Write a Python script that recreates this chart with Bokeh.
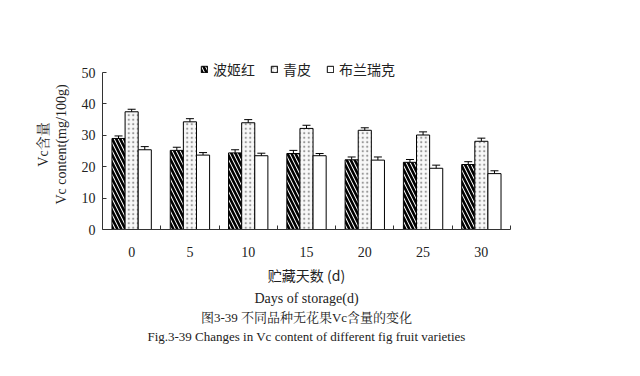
from bokeh.plotting import figure
from bokeh.models import (ColumnDataSource, FixedTicker, Whisker, TeeHead, Legend,
                          LegendItem, Title, Range1d)
from bokeh.embed import file_html
from bokeh.resources import INLINE

days = ["0", "5", "10", "15", "20", "25", "30"]
series_names = ["波姬红", "青皮", "布兰瑞克"]
bojihong = [29.0, 25.2, 24.4, 24.2, 22.2, 21.4, 20.7]
qingpi = [37.5, 34.3, 34.0, 32.2, 31.6, 30.1, 28.1]
bulanruike = [25.4, 23.7, 23.5, 23.5, 22.1, 19.5, 17.8]
err_bojihong = [0.8, 1.0, 1.0, 1.0, 0.9, 0.9, 0.9]
err_qingpi = [0.8, 1.0, 1.0, 1.0, 0.8, 1.0, 1.0]
err_bulanruike = [1.0, 0.8, 0.8, 0.7, 1.0, 1.0, 0.9]
y_ticks = [0, 10, 20, 30, 40, 50]

SERIF = "Liberation Serif, Noto Serif CJK SC, Noto Sans CJK SC"
SANS = "Noto Sans CJK SC"

n = len(days)
centers = [i + 0.5 for i in range(n)]
bw = 0.225
offsets = [-bw, 0.0, bw]

p = figure(width=640, height=376, output_backend="svg", toolbar_location=None,
           x_range=Range1d(0, n), y_range=Range1d(0, 54.15),
           min_border_left=102, min_border_right=130, min_border_top=59,
           min_border_bottom=147)
p.outline_line_color = None
p.grid.visible = False
p.background_fill_color = "white"
p.border_fill_color = "white"

styles = [
    dict(fill_color="white", hatch_pattern="left_diagonal_line", hatch_color="black",
         hatch_weight=2.6, hatch_scale=8),
    dict(fill_color="#f8f8f8", hatch_pattern="dot", hatch_color="#999999",
         hatch_weight=1, hatch_scale=4.5),
    dict(fill_color="white"),
]
values = [bojihong, qingpi, bulanruike]
errs = [err_bojihong, err_qingpi, err_bulanruike]

items = []
for k in range(3):
    xs = [c + offsets[k] for c in centers]
    src = ColumnDataSource(dict(x=xs, top=values[k],
                                upper=[v + e for v, e in zip(values[k], errs[k])],
                                lower=[v - e for v, e in zip(values[k], errs[k])]))
    r = p.vbar(x="x", top="top", width=bw, source=src, line_color="black",
               line_width=1, **styles[k])
    items.append(LegendItem(label=series_names[k], renderers=[r]))
    w = Whisker(base="x", upper="upper", lower="lower", source=src,
                line_color="black", line_width=1,
                upper_head=TeeHead(size=8, line_color="black", line_width=1),
                lower_head=TeeHead(size=8, line_color="black", line_width=1))
    p.add_layout(w)

legend = Legend(items=items, orientation="horizontal", location=(98, 150),
                padding=0, margin=0, spacing=15, glyph_width=8, glyph_height=8,
                label_standoff=5, border_line_color=None, background_fill_alpha=0,
                label_text_font=SANS, label_text_font_size="14px",
                label_text_color="#222222")
p.add_layout(legend)

# axes
xa = p.xaxis[0]
xa.ticker = FixedTicker(ticks=centers, minor_ticks=list(range(1, n + 1)))
xa.major_label_overrides = {c: d for c, d in zip(centers, days)}
xa.major_tick_in = 0
xa.major_tick_out = 0
xa.minor_tick_in = 4
xa.minor_tick_out = 0
xa.minor_tick_line_color = "#333333"
xa.axis_line_color = "#333333"
xa.major_label_standoff = 17
xa.major_label_text_font = SERIF
xa.major_label_text_font_size = "14px"
xa.major_label_text_color = "#222222"
xa.axis_label = "贮藏天数 (d)"
xa.axis_label_text_font = SANS
xa.axis_label_text_font_style = "normal"
xa.axis_label_text_font_size = "14px"
xa.axis_label_text_color = "#222222"
xa.axis_label_standoff = 5

ya = p.yaxis[0]
ya.ticker = FixedTicker(ticks=y_ticks)
ya.bounds = (0, 50)
ya.major_tick_in = 4
ya.major_tick_out = 0
ya.minor_tick_line_color = None
ya.axis_line_color = "#333333"
ya.major_tick_line_color = "#333333"
ya.major_label_text_font = SERIF
ya.major_label_text_font_size = "14px"
ya.major_label_text_color = "#222222"
ya.major_label_standoff = 7
ya.axis_label = "Vc含量\nVc content(mg/100g)"
ya.axis_label_text_font = SERIF
ya.axis_label_text_font_style = "normal"
ya.axis_label_text_font_size = "14px"
ya.axis_label_text_color = "#222222"
ya.axis_label_standoff = 10

for txt, font, size in [("Days of storage(d)", SERIF, "14px"),
                        ("图3-39 不同品种无花果Vc含量的变化", SERIF, "13px"),
                        ("Fig.3-39 Changes in Vc content of different fig fruit varieties", SERIF, "13px")]:
    t = Title(text=txt, align="center", text_font=font, text_font_size=size,
              text_font_style="normal", text_color="#222222", standoff=2, offset=0)
    p.add_layout(t, "below")

open("out.html", "w").write(file_html(p, INLINE))
